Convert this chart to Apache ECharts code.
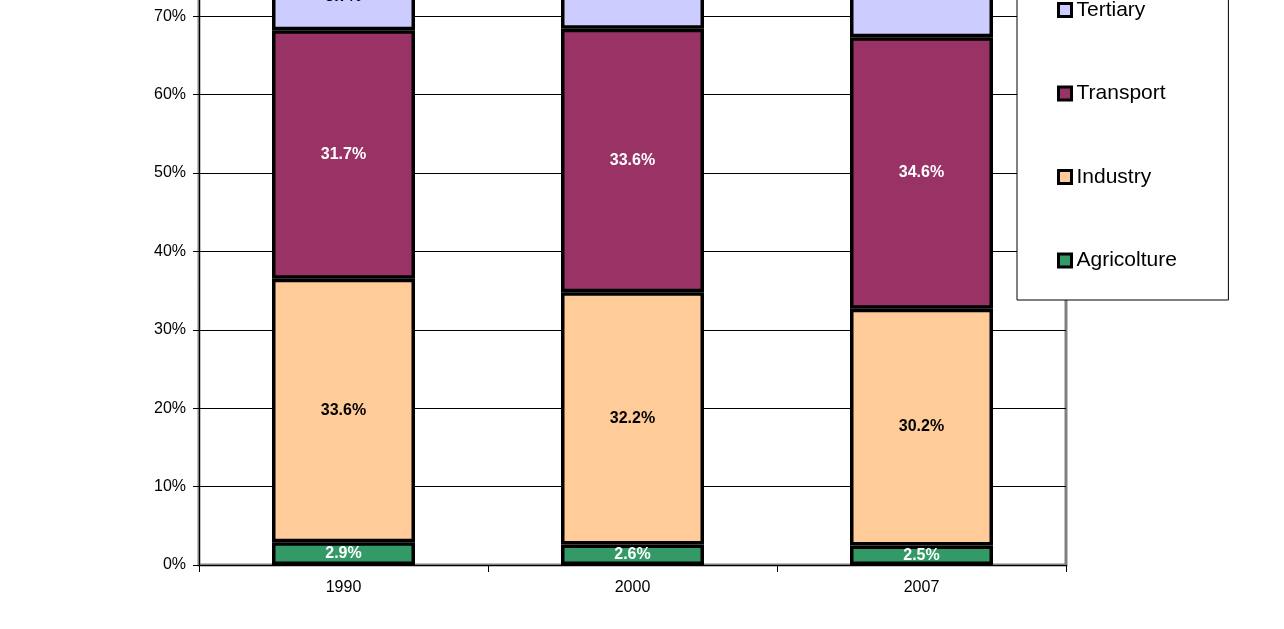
<!DOCTYPE html>
<html>
<head>
<meta charset="utf-8">
<script src="https://cdn.jsdelivr.net/npm/echarts@6/dist/echarts.min.js"></script>
<style>html,body{margin:0;padding:0;background:#fff}#c{width:1284px;height:629px}</style>
</head>
<body>
<div id="c"></div>
<script>
const categories = ['1990', '2000', '2007'];
const agricolture = [2.9, 2.6, 2.5];
const industry = [33.6, 32.2, 30.2];
const transport = [31.7, 33.6, 34.6];
const tertiary = [8.7, 9.4, 11.5];
const residential = [23.1, 22.2, 21.2];
const yTicks = [0, 10, 20, 30, 40, 50, 60, 70, 80, 90, 100];

const chart = echarts.init(document.getElementById('c'));
const FONT = 'Liberation Sans, Arial, sans-serif';
function mk(name, data, color, labelColor) {
  return {
    name: name, type: 'bar', stack: 'all', data: data, barWidth: 143,
    itemStyle: { color: color, borderColor: '#000', borderWidth: 3.5 },
    label: {
      show: true, position: 'inside', color: labelColor,
      fontFamily: FONT, fontWeight: 'bold', fontSize: 16,
      formatter: p => p.value.toFixed(1) + '%'
    },
    emphasis: { disabled: true }
  };
}
chart.setOption({
  animation: false,
  grid: { left: 199, right: 1284 - 1066, top: -219, bottom: 64, outerBoundsMode: 'none', containLabel: false, show: true, borderColor: '#808080', borderWidth: 3, backgroundColor: 'transparent' },
  legend: {
    orient: 'vertical', left: 1017, top: -119,
    data: ['Residential', 'Tertiary', 'Transport', 'Industry', 'Agricolture'],
    backgroundColor: '#fff', borderColor: '#000', borderWidth: 1,
    padding: [35, 48, 29, 40],
    icon: 'rect',
    itemWidth: 13, itemHeight: 13, itemGap: 62.5,
    itemStyle: { borderColor: '#000', borderWidth: 3 },
    textStyle: { fontFamily: FONT, fontSize: 21, color: '#000', lineHeight: 20, padding: [0, 0, 0, 0] },
    selectedMode: false
  },
  xAxis: {
    type: 'category', data: categories,
    axisLine: { lineStyle: { color: '#000', width: 1 } },
    axisTick: { show: true, length: 7, lineStyle: { color: '#000' } },
    axisLabel: { fontFamily: FONT, fontSize: 16, color: '#000', margin: 15 }
  },
  yAxis: {
    type: 'value', min: 0, max: 100, interval: 10,
    axisLine: { show: true, lineStyle: { color: '#000', width: 1 } },
    axisTick: { show: true, length: 6, lineStyle: { color: '#000' } },
    splitLine: { lineStyle: { color: '#000', width: 1 } },
    axisLabel: { fontFamily: FONT, fontSize: 16, color: '#000', margin: 13, formatter: v => yTicks.includes(v) ? v + '%' : '' }
  },
  series: [
    mk('Agricolture', agricolture, '#339966', '#fff'),
    mk('Industry', industry, '#FFCC99', '#000'),
    mk('Transport', transport, '#993366', '#fff'),
    mk('Tertiary', tertiary, '#CCCCFF', '#000'),
    mk('Residential', residential, '#FFFFCC', '#000')
  ]
});
</script>
</body>
</html>
